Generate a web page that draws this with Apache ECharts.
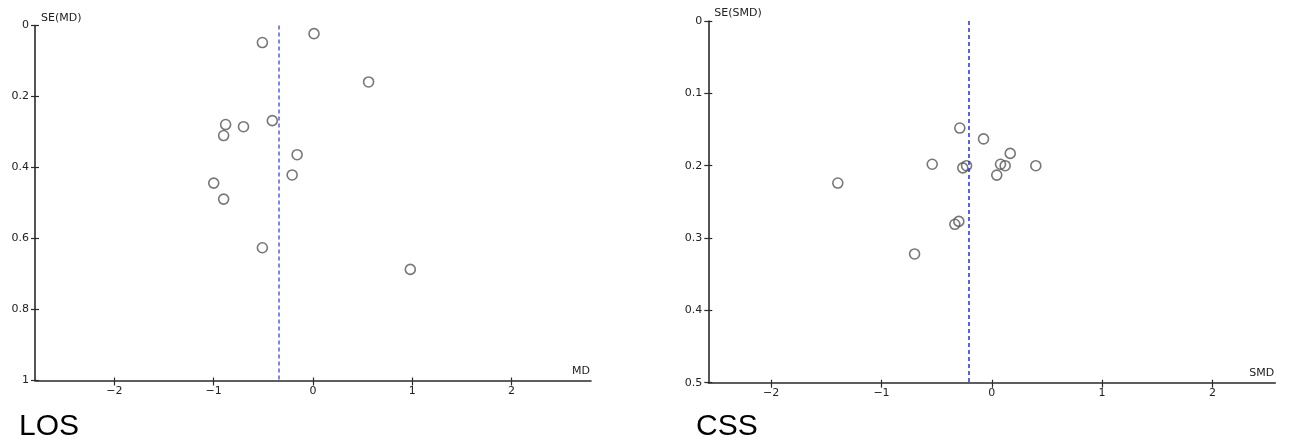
<!DOCTYPE html>
<html>
<head>
<meta charset="utf-8">
<script src="https://cdn.jsdelivr.net/npm/echarts@6/dist/echarts.min.js"></script>
<style>
html,body{margin:0;padding:0;background:#fff;}
#c{width:1289px;height:441px;}
</style>
</head>
<body>
<div id="c"></div>
<script>
// ---- data ----
const losMD = [-0.51, 0.01, 0.56, -0.41, -0.88, -0.70, -0.90, -0.16, -0.21, -1.00, -0.90, -0.51, 0.98];
const losSE = [0.048, 0.023, 0.159, 0.268, 0.279, 0.285, 0.310, 0.364, 0.421, 0.444, 0.489, 0.626, 0.687];
const losPooled = -0.34;

const cssSMD = [-0.29, -0.075, 0.167, -0.54, -0.263, -0.229, 0.079, 0.121, 0.045, 0.399, -1.396, -0.335, -0.299, -0.70];
const cssSE = [0.148, 0.163, 0.183, 0.198, 0.203, 0.200, 0.198, 0.200, 0.213, 0.200, 0.224, 0.281, 0.277, 0.322];
const cssPooled = -0.21;

const xTicks = [-2, -1, 0, 1, 2];
const losYTicks = [0, 0.2, 0.4, 0.6, 0.8, 1];
const cssYTicks = [0, 0.1, 0.2, 0.3, 0.4, 0.5];

// ---- chart ----
const chart = echarts.init(document.getElementById('c'), null, {renderer: 'canvas'});
const FONT = 'DejaVu Sans';
const axisCol = '#2a2a2a';
const lblStyle = {color: '#222', fontSize: 11, fontFamily: FONT};

function xAxisMain(grid, min, max, name) {
  return {
    type: 'value', gridIndex: grid, min: min, max: max, position: 'bottom',
    name: name, nameLocation: 'end', nameGap: -1,
    nameTextStyle: {color: '#222', fontSize: 11, fontFamily: FONT, align: 'right', verticalAlign: 'bottom', padding: [0, 0, 4, 0]},
    axisLine: {onZero: false, lineStyle: {color: axisCol, width: 1.6}},
    axisTick: {show: true, length: 5, customValues: xTicks, lineStyle: {color: axisCol, width: 1.2}},
    axisLabel: Object.assign({customValues: xTicks, margin: 5,
      formatter: v => String(v).replace('-', '\u2212')}, lblStyle),
    splitLine: {show: false}
  };
}
function xAxisInner(grid, min, max) {
  return {
    type: 'value', gridIndex: grid, min: min, max: max, position: 'bottom', offset: 0,
    axisLine: {show: false, onZero: false},
    axisTick: {show: true, inside: true, length: 3, customValues: xTicks, lineStyle: {color: axisCol, width: 1.2}},
    axisLabel: {show: false}, splitLine: {show: false}
  };
}
function yAxisMain(grid, ticks, name) {
  return {
    type: 'value', gridIndex: grid, min: ticks[0], max: ticks[ticks.length - 1], inverse: true, position: 'left',
    name: name, nameLocation: 'start', nameGap: 2,
    nameTextStyle: {color: '#222', fontSize: 11, fontFamily: FONT, align: 'left', verticalAlign: 'bottom', padding: [0, 0, 0, 6]},
    axisLine: {onZero: false, lineStyle: {color: axisCol, width: 1.6}},
    axisTick: {show: true, length: 4, customValues: ticks, lineStyle: {color: axisCol, width: 1.2}},
    axisLabel: Object.assign({customValues: ticks, margin: 6}, lblStyle),
    splitLine: {show: false}
  };
}
function yAxisInner(grid, ticks) {
  return {
    type: 'value', gridIndex: grid, min: ticks[0], max: ticks[ticks.length - 1], inverse: true, position: 'left', offset: 0,
    axisLine: {show: false, onZero: false},
    axisTick: {show: true, inside: true, length: 4, customValues: ticks, lineStyle: {color: axisCol, width: 1.2}},
    axisLabel: {show: false}, splitLine: {show: false}
  };
}
function scatter(xi, yi, xs, ys, pooled, lineCol) {
  return {
    type: 'scatter', xAxisIndex: xi, yAxisIndex: yi,
    data: xs.map((x, i) => [x, ys[i]]),
    symbol: 'circle', symbolSize: 10,
    itemStyle: {color: 'rgba(0,0,0,0)', borderColor: '#555', borderWidth: 1.6},
    emphasis: {disabled: true},
    markLine: {
      silent: true, symbol: 'none', label: {show: false},
      lineStyle: {color: lineCol, type: [4, 3], width: 1.5},
      data: [{xAxis: pooled}]
    }
  };
}

chart.setOption({
  animation: false,
  backgroundColor: '#fff',
  title: [
    {text: 'LOS', left: 19, top: 411, padding: 0,
     textStyle: {fontFamily: 'Liberation Sans', fontWeight: 'normal', fontSize: 30, lineHeight: 32, color: '#000'}},
    {text: 'CSS', left: 696, top: 411, padding: 0,
     textStyle: {fontFamily: 'Liberation Sans', fontWeight: 'normal', fontSize: 30, lineHeight: 32, color: '#000'}}
  ],
  grid: [
    {left: 35, top: 25.5, width: 556, height: 355},
    {left: 708.3, top: 21, width: 567, height: 361.7}
  ],
  xAxis: [
    xAxisMain(0, -2.8, 2.8, 'MD'),
    xAxisMain(1, -2.57, 2.57, 'SMD'),
    xAxisInner(0, -2.8, 2.8),
    xAxisInner(1, -2.57, 2.57)
  ],
  yAxis: [
    yAxisMain(0, losYTicks, 'SE(MD)'),
    yAxisMain(1, cssYTicks, 'SE(SMD)'),
    yAxisInner(0, losYTicks),
    yAxisInner(1, cssYTicks)
  ],
  series: [
    scatter(0, 0, losMD, losSE, losPooled, '#5a5af0'),
    scatter(1, 1, cssSMD, cssSE, cssPooled, '#2a2ae6')
  ]
});
</script>
</body>
</html>
